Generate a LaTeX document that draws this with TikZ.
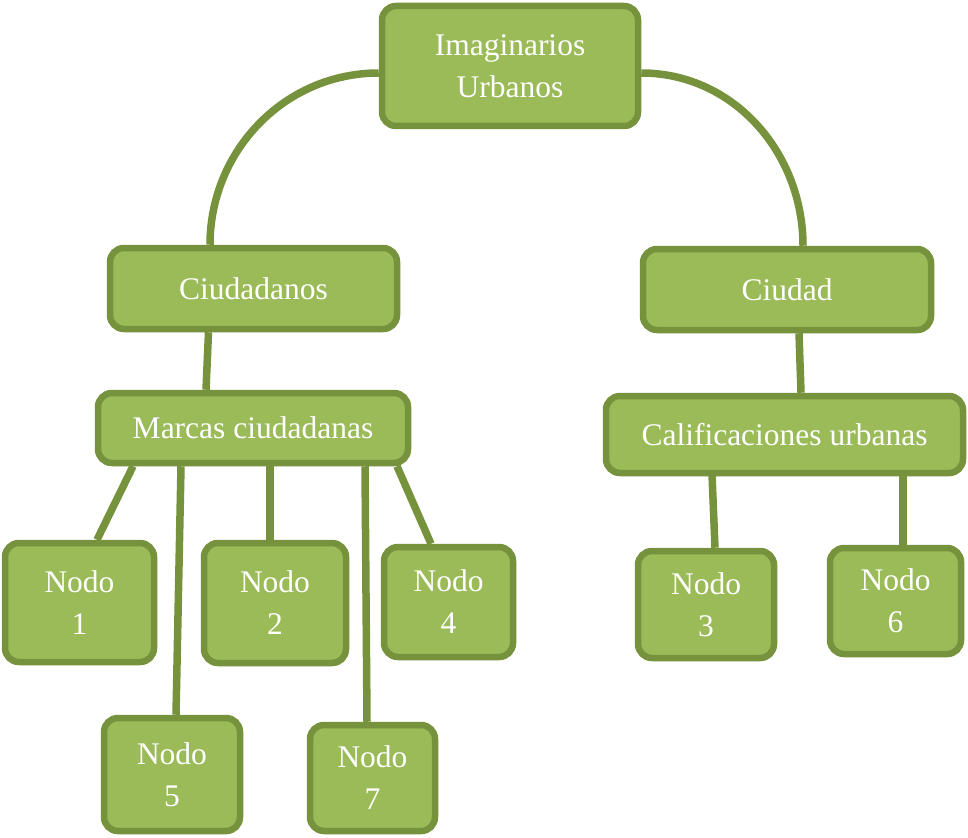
\documentclass[tikz,border=0pt]{standalone}
\usepackage{fontspec}
\setmainfont{Liberation Serif}
\newfontfamily\tnr{Liberation Serif}
\usetikzlibrary{shadows}
\definecolor{boxfill}{HTML}{9BBB59}
\definecolor{boxline}{HTML}{76923C}
\tikzset{
  box/.style={rectangle, rounded corners=14pt, draw=boxline, fill=boxfill, line width=6.5pt,
    text=white, inner sep=0pt, align=center, font=\tnr\fontsize{31.5}{42}\selectfont,
    drop shadow={opacity=0.18, shadow xshift=2pt, shadow yshift=-3pt}},
  link/.style={draw=boxline, line width=7.5pt}
}
\begin{document}
\begin{tikzpicture}[x=1pt,y=-1pt]
\useasboundingbox (0,0) rectangle (968,837);
\path (510,66) node[box, minimum width=256pt, minimum height=120pt] (top) {Imaginarios\\Urbanos};
\path (253.5,288.5) node[box, minimum width=287pt, minimum height=81pt] (ciudadanos) {Ciudadanos};
\path (787,289.5) node[box, minimum width=288pt, minimum height=81pt] (ciudad) {Ciudad};
\path (253,428) node[box, minimum width=310pt, minimum height=70pt] (marcas) {Marcas ciudadanas};
\path (784.5,434.5) node[box, minimum width=357pt, minimum height=77pt] (calif) {Calificaciones urbanas};
\path (79.5,602.5) node[box, minimum width=149pt, minimum height=119pt] (n1) {Nodo\\1};
\path (275,603) node[box, minimum width=142pt, minimum height=120pt] (n2) {Nodo\\2};
\path (448.5,602) node[box, minimum width=129pt, minimum height=110pt] (n4) {Nodo\\4};
\path (706,604.5) node[box, minimum width=136pt, minimum height=107pt] (n3) {Nodo\\3};
\path (895.5,601) node[box, minimum width=131pt, minimum height=106pt] (n6) {Nodo\\6};
\path (172,774.5) node[box, minimum width=136pt, minimum height=113pt] (n5) {Nodo\\5};
\path (372.5,778) node[box, minimum width=125pt, minimum height=106pt] (n7) {Nodo\\7};
% links
\draw[link] ([yshift=-7pt]top.west) to[out=180,in=90] ([xshift=-43.5pt]ciudadanos.north);
\draw[link] ([yshift=-7pt]top.east) to[out=0,in=90] ([xshift=16pt]ciudad.north);
\draw[link] ([xshift=-45pt]ciudadanos.south) -- ([xshift=-47pt]marcas.north);
\draw[link] ([xshift=12pt]ciudad.south) -- ([xshift=16.5pt]calif.north);
\draw[link] ([xshift=-120pt]marcas.south) -- ([xshift=17.5pt]n1.north);
\draw[link] ([xshift=-72pt]marcas.south) -- ([xshift=4pt]n5.north);
\draw[link] ([xshift=17pt]marcas.south) -- ([xshift=-5pt]n2.north);
\draw[link] ([xshift=112pt]marcas.south) -- ([xshift=-5.5pt]n7.north);
\draw[link] ([xshift=144pt]marcas.south) -- ([xshift=-17.5pt]n4.north);
\draw[link] ([xshift=-72.5pt,yshift=2pt]calif.south) -- ([xshift=9pt]n3.north);
\draw[link] ([xshift=118.5pt,yshift=6pt]calif.south) -- ([xshift=7.5pt]n6.north);
\end{tikzpicture}
\end{document}
